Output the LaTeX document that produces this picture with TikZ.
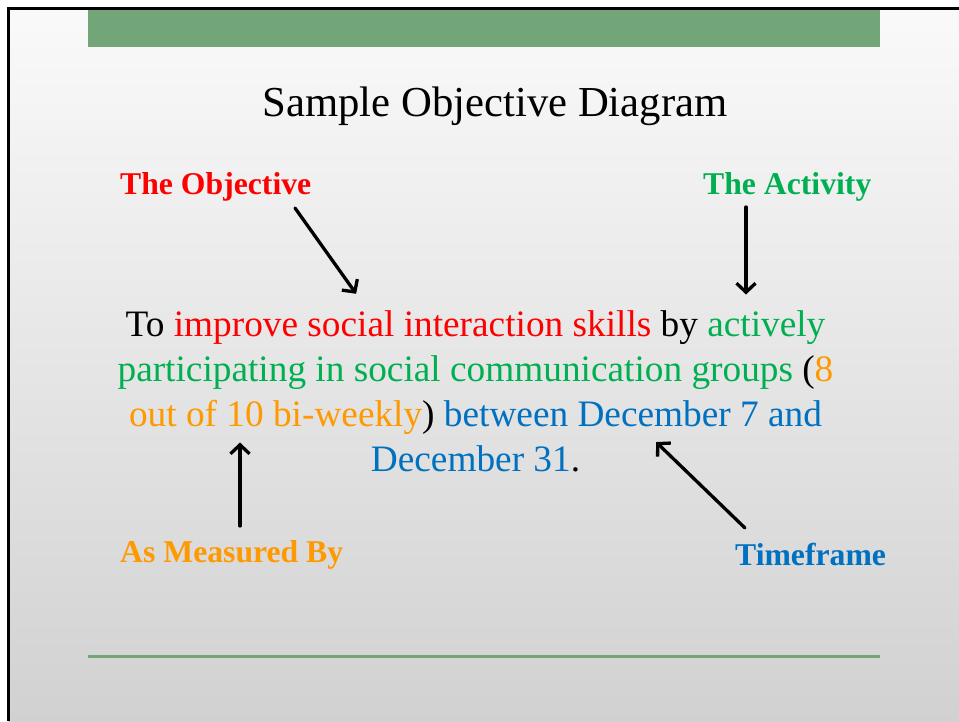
\documentclass[tikz,border=0pt]{standalone}
\usepackage{fontspec}
\setmainfont{Liberation Serif}
\usetikzlibrary{arrows.meta}
\definecolor{objred}{RGB}{255,0,0}
\definecolor{actgreen}{RGB}{0,176,80}
\definecolor{measorange}{RGB}{255,153,0}
\definecolor{timeblue}{RGB}{0,112,192}
\definecolor{bargreen}{RGB}{114,165,119}
\tikzset{
  body/.style={anchor=base, inner sep=0pt, font=\fontsize{37.3}{45}\selectfont},
  lbl/.style={anchor=base west, inner sep=0pt, font=\fontsize{31.7}{38}\selectfont\bfseries},
  pointer/.style={line width=3.3pt, line cap=round, -{Straight Barb[length=9pt,width=19pt,line width=3.3pt]}, shorten >=1.5pt},
}
\begin{document}
\begin{tikzpicture}[x=1pt,y=-1pt]
\useasboundingbox (0,0) rectangle (959,721);
\fill[white] (0,0) rectangle (959,721);
\shade[top color=black!2, bottom color=black!18] (8,8) rectangle (959,721);
\draw[line width=3pt] (8,721) -- (8,8) -- (959,8);
\fill[bargreen] (88,9.5) rectangle (880,46.5);
\draw[bargreen, line width=2.8pt] (88,656.5) -- (880,656.5);

\node[anchor=base, inner sep=0pt, font=\fontsize{42.7}{50}\selectfont] (title) at (495,116) {Sample Objective Diagram};

\node[body] (l1) at (475.5,336) {To \textcolor{objred}{improve social interaction skills} by \textcolor{actgreen}{actively}};
\node[body] (l2) at (475.5,381) {\textcolor{actgreen}{participating in social communication groups} (\textcolor{measorange}{8}};
\node[body] (l3) at (475.5,426) {\textcolor{measorange}{out of 10 bi-weekly}) \textcolor{timeblue}{between December 7 and}};
\node[body] (l4) at (475.5,471) {\textcolor{timeblue}{December 31}.};

\node[lbl, text=objred] (obj) at (120,194) {The Objective};
\node[lbl, text=actgreen] (act) at (703,194) {The Activity};
\node[lbl, text=measorange] (meas) at (120,562) {As Measured By};
\node[lbl, text=timeblue] (time) at (735,565) {Timeframe};

\coordinate (objs) at (295,208);
\coordinate (objt) at (357,295);
\coordinate (acts) at (746,207);
\coordinate (actt) at (746,296);
\coordinate (meass) at (240,526);
\coordinate (meast) at (240,441);
\coordinate (times) at (745,528);
\coordinate (timet) at (655,441);

\draw[pointer] (objs) -- (objt);
\draw[pointer] (acts) -- (actt);
\draw[pointer] (meass) -- (meast);
\draw[pointer] (times) -- (timet);
\end{tikzpicture}
\end{document}
